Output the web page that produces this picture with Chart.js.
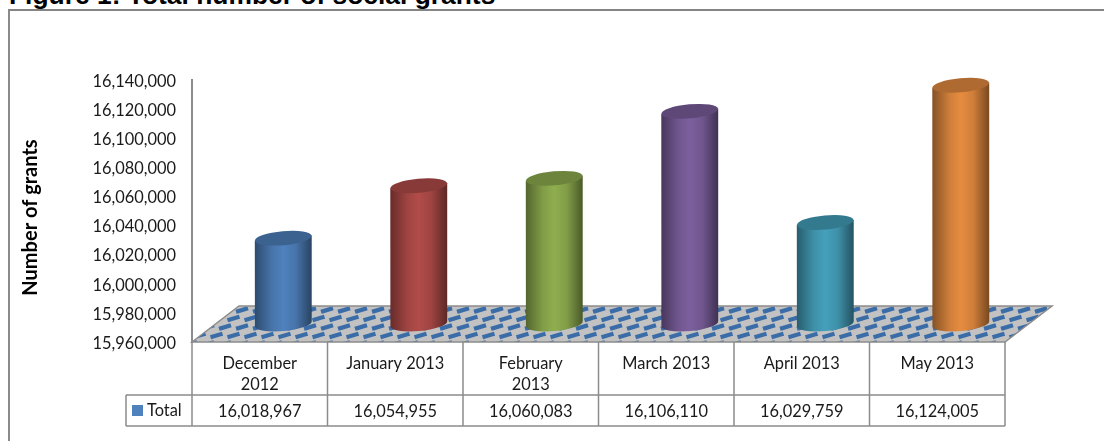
<!DOCTYPE html>
<html lang="en">
<head>
    <meta charset="UTF-8">
    <title>Figure 1: Total number of social grants</title>
    <script src="https://cdn.jsdelivr.net/npm/chart.js"></script>
    <style>
        html, body { margin: 0; padding: 0; background: #fff; overflow: hidden; }
        .wrap { position: relative; width: 1104px; height: 441px; overflow: hidden; }
        .fig-title {
            position: absolute; left: 9px; top: -20px; white-space: nowrap;
            font: bold 26.4px "Liberation Sans", Arial, sans-serif; color: #000;
        }
        .frame {
            position: absolute; left: 8px; top: 9px; width: 1200px; height: 600px;
            border: 2px solid #8a8a8a; border-top-color: #858585;
        }
        canvas { position: absolute; left: 0; top: 0; }
    </style>
</head>
<body>
    <div class="wrap">
        <div class="fig-title">Figure 1: Total number of social grants</div>
        <div class="frame"></div>
        <canvas id="grantsChart" width="1104" height="441"></canvas>
    </div>

    <script>
        const categories = [['December', '2012'], 'January 2013', ['February', '2013'], 'March 2013', 'April 2013', 'May 2013'];
        const totals = [16018967, 16054955, 16060083, 16106110, 16029759, 16124005];
        const seriesName = 'Total';
        const yAxisTitle = 'Number of grants';
        const barColors = ['#4f81bd', '#b14c49', '#8fae4f', '#7c5f9e', '#45a0bc', '#e68c40'];

        const FONT = 'Lato, sans-serif';
        const LINE = '#8c8c8c';
        // how far the floor runs back, bars stand half way
        const DEPTH_X = 47, DEPTH_Y = 36;

        function shade(hex, f) {
            const n = parseInt(hex.slice(1), 16);
            const c = [n >> 16, (n >> 8) & 255, n & 255].map(v => Math.round(v * f));
            return `rgb(${c[0]},${c[1]},${c[2]})`;
        }

        function floorPattern(ctx) {
            const t = document.createElement('canvas');
            t.width = 17; t.height = 17;
            const p = t.getContext('2d');
            p.fillStyle = '#c2c2c2';
            p.fillRect(0, 0, 17, 17);
            p.strokeStyle = '#3a6ca8';
            p.lineWidth = 4.2;
            const dash = (x, y) => {
                p.beginPath();
                p.moveTo(x - 6, y + 1.8);
                p.lineTo(x + 6, y - 1.8);
                p.stroke();
            };
            [[4, 4], [21, 4], [-13, 4], [12.5, 12.5], [-4.5, 12.5], [29.5, 12.5]].forEach(d => dash(d[0], d[1]));
            return ctx.createPattern(t, 'repeat');
        }

        const floorPlugin = {
            id: 'floor',
            beforeDatasetsDraw(chart) {
                const { ctx, chartArea: a } = chart;
                ctx.save();
                ctx.beginPath();
                ctx.moveTo(a.left, a.bottom);
                ctx.lineTo(a.left + DEPTH_X, a.bottom - DEPTH_Y);
                ctx.lineTo(a.right + DEPTH_X, a.bottom - DEPTH_Y);
                ctx.lineTo(a.right, a.bottom);
                ctx.closePath();
                ctx.fillStyle = floorPattern(ctx);
                ctx.fill();
                ctx.strokeStyle = LINE;
                ctx.lineWidth = 1.5;
                ctx.stroke();
                ctx.restore();
            }
        };

        const cylinderPlugin = {
            id: 'cylinders',
            afterDatasetsDraw(chart) {
                const { ctx } = chart;
                const tilt = -0.09;
                const base = chart.scales.y.getPixelForValue(chart.scales.y.min);
                chart.getDatasetMeta(0).data.forEach((bar, i) => {
                    const col = barColors[i];
                    const rx = bar.width / 2, ry = 7;
                    const cx = bar.x + DEPTH_X / 2;
                    const top = bar.y - DEPTH_Y / 2;
                    const bot = base - DEPTH_Y / 2;
                    const dy = rx * Math.sin(tilt);
                    const g = ctx.createLinearGradient(cx - rx, 0, cx + rx, 0);
                    g.addColorStop(0, shade(col, 0.58));
                    g.addColorStop(0.3, shade(col, 0.9));
                    g.addColorStop(0.5, col);
                    g.addColorStop(0.72, shade(col, 0.9));
                    g.addColorStop(1, shade(col, 0.52));
                    ctx.save();
                    ctx.beginPath();
                    ctx.moveTo(cx - rx, top - dy);
                    ctx.lineTo(cx + rx, top + dy);
                    ctx.lineTo(cx + rx, bot + dy);
                    ctx.ellipse(cx, bot, rx, ry, tilt, 0, Math.PI);
                    ctx.closePath();
                    ctx.fillStyle = g;
                    ctx.fill();
                    ctx.beginPath();
                    ctx.ellipse(cx, top, rx, ry, tilt, 0, Math.PI * 2);
                    ctx.fillStyle = shade(col, 0.76);
                    ctx.fill();
                    ctx.restore();
                });
            }
        };

        const tablePlugin = {
            id: 'dataTable',
            afterDraw(chart) {
                const { ctx, chartArea: a } = chart;
                const rowTop = 395, rowBottom = 426, keyLeft = 126;
                const step = (a.right - a.left) / totals.length;
                ctx.save();
                ctx.strokeStyle = LINE;
                ctx.lineWidth = 1.5;
                ctx.beginPath();
                for (let i = 0; i <= totals.length; i++) {
                    ctx.moveTo(a.left + i * step, a.bottom);
                    ctx.lineTo(a.left + i * step, rowBottom);
                }
                ctx.moveTo(keyLeft, rowTop);
                ctx.lineTo(a.right, rowTop);
                ctx.moveTo(keyLeft, rowBottom);
                ctx.lineTo(a.right, rowBottom);
                ctx.moveTo(keyLeft, rowTop);
                ctx.lineTo(keyLeft, rowBottom);
                ctx.stroke();

                ctx.fillStyle = '#1a1a1a';
                ctx.font = '16.4px ' + FONT;
                ctx.textBaseline = 'middle';
                ctx.textAlign = 'center';
                totals.forEach((v, i) => {
                    ctx.fillText(v.toLocaleString('en-US'), a.left + (i + 0.5) * step, rowTop + 17);
                });
                ctx.textAlign = 'left';
                ctx.fillText(seriesName, 147, rowTop + 16);
                ctx.fillStyle = barColors[0];
                ctx.fillRect(132, rowTop + 10, 11, 11);

                // axis title sits a little below the axis middle in the original
                ctx.translate(37, 217.5);
                ctx.rotate(-Math.PI / 2);
                ctx.fillStyle = '#000';
                ctx.font = 'bold 20px ' + FONT;
                ctx.textAlign = 'center';
                ctx.textBaseline = 'alphabetic';
                ctx.fillText(yAxisTitle, 0, 0);
                ctx.restore();
            }
        };

        new Chart(document.getElementById('grantsChart'), {
            type: 'bar',
            data: {
                labels: categories,
                datasets: [{
                    label: seriesName,
                    data: totals,
                    backgroundColor: 'transparent',
                    borderWidth: 0,
                    categoryPercentage: 1,
                    barPercentage: 0.42
                }]
            },
            options: {
                responsive: false,
                animation: false,
                layout: { padding: { left: 22, top: 80, right: 99, bottom: 0 } },
                plugins: {
                    legend: { display: false },
                    title: { display: false },
                    tooltip: { enabled: false }
                },
                scales: {
                    x: {
                        grid: { display: false, drawTicks: false },
                        border: { display: false },
                        ticks: {
                            padding: 11,
                            maxRotation: 0,
                            autoSkip: false,
                            color: '#1a1a1a',
                            font: { family: FONT, size: 16.4, lineHeight: 1.3 }
                        },
                        afterFit(scale) { scale.height = 99; }
                    },
                    y: {
                        min: 15960000,
                        max: 16140000,
                        grid: { display: false, drawTicks: false },
                        border: { display: true, color: LINE, width: 2 },
                        ticks: {
                            stepSize: 20000,
                            padding: 16,
                            labelOffset: 1.5,
                            color: '#1a1a1a',
                            font: { family: FONT, size: 16.4 },
                            callback: v => v.toLocaleString('en-US')
                        },
                        afterFit(scale) { scale.width = 170; }
                    }
                }
            },
            plugins: [floorPlugin, cylinderPlugin, tablePlugin]
        });
    </script>
</body>
</html>
